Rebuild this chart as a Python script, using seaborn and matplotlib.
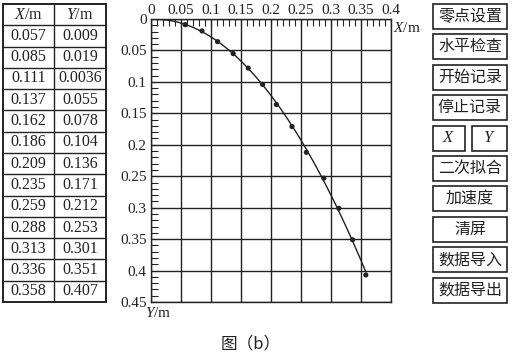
import numpy as np
import matplotlib
matplotlib.use("Agg")
import matplotlib.pyplot as plt
import seaborn as sns
from matplotlib.patches import Rectangle

# ---- data ----
x_vals = [0.057, 0.085, 0.111, 0.137, 0.162, 0.186, 0.209, 0.235, 0.259, 0.288, 0.313, 0.336, 0.358]
y_vals = [0.009, 0.019, 0.036, 0.055, 0.078, 0.104, 0.136, 0.171, 0.212, 0.253, 0.301, 0.351, 0.407]
x_table_text = ["0.057", "0.085", "0.111", "0.137", "0.162", "0.186", "0.209",
                "0.235", "0.259", "0.288", "0.313", "0.336", "0.358"]
y_table_text = ["0.009", "0.019", "0.0036", "0.055", "0.078", "0.104", "0.136",
                "0.171", "0.212", "0.253", "0.301", "0.351", "0.407"]
x_ticks = [0, 0.05, 0.1, 0.15, 0.2, 0.25, 0.3, 0.35, 0.4]
x_tick_labels = ["0", "0.05", "0.1", "0.15", "0.2", "0.25", "0.3", "0.35", "0.4"]
y_ticks = [0, 0.05, 0.1, 0.15, 0.2, 0.25, 0.3, 0.35, 0.4, 0.45]
y_tick_labels = ["0", "0.05", "0.1", "0.15", "0.2", "0.25", "0.3", "0.35", "0.4", "0.45"]
buttons = ["零点设置", "水平检查", "开始记录", "停止记录", None, "二次拟合", "加速度", "清屏", "数据导入", "数据导出"]

sns.set_theme(style="white")
plt.rcParams["font.family"] = ["Liberation Serif", "Noto Sans CJK SC"]
plt.rcParams["mathtext.fontset"] = "custom"
plt.rcParams["mathtext.rm"] = "Liberation Serif"
plt.rcParams["mathtext.it"] = "Liberation Serif:italic"

INK = "#222222"
W, H = 512, 358
fig = plt.figure(figsize=(W / 100, H / 100), dpi=100)
fig.patch.set_facecolor("white")

# ---- main chart ----
ax = fig.add_axes([151 / W, 1 - 302 / H, 240 / W, 283 / H])
coef = np.polyfit(x_vals, y_vals, 2)
fit_x = np.linspace(0, max(x_vals), 120)
fit_y = np.polyval(coef, fit_x)
sns.lineplot(x=fit_x, y=fit_y, ax=ax, color=INK, lw=1.0, zorder=4)
sns.scatterplot(x=x_vals, y=y_vals, ax=ax, color=INK, s=14, marker="o",
                edgecolor="none", zorder=5)
ax.set_xlim(0, 0.4)
ax.set_ylim(0.45, 0)
ax.set_xticks(x_ticks)
ax.set_xticklabels(x_tick_labels)
ax.set_yticks(y_ticks)
ax.set_yticklabels(y_tick_labels)
ax.set_xticks(np.arange(0, 0.4001, 0.01), minor=True)
ax.set_yticks(np.arange(0, 0.4501, 0.01), minor=True)
ax.xaxis.tick_top()
ax.tick_params(which="both", direction="in", length=5, width=0.8, color=INK,
               top=True, bottom=False, left=True, right=False,
               labeltop=True, labelbottom=False, labelsize=11, labelcolor=INK)
ax.tick_params(axis="x", which="major", pad=1.5)
ax.tick_params(axis="y", which="major", pad=3)
ax.grid(True, which="major", color=INK, lw=1.0)
ax.set_xlabel("")
ax.set_ylabel("")
for s in ax.spines.values():
    s.set_visible(True)
    s.set_color(INK)
    s.set_linewidth(1.0)
ax.set_facecolor("white")

# ---- overlay in pixel coordinates ----
ov = fig.add_axes([0, 0, 1, 1], zorder=-1)
ov.set_xlim(0, W)
ov.set_ylim(H, 0)
ov.axis("off")

ov.text(393, 28, "$X$/m", ha="left", va="center", fontsize=11, color=INK)
ov.text(145, 313, "$Y$/m", ha="left", va="center", fontsize=11, color=INK)

# table
tx0, tx1, txm = 3, 106, 54
ty0, ty1 = 4, 302
nrows = len(x_table_text) + 1
rh = (ty1 - ty0) / nrows
ov.add_patch(Rectangle((tx0, ty0), tx1 - tx0, ty1 - ty0, fill=False, ec=INK, lw=1.4))
ov.plot([txm, txm], [ty0, ty1], color=INK, lw=1.0)
for i in range(1, nrows):
    ov.plot([tx0, tx1], [ty0 + i * rh, ty0 + i * rh], color=INK, lw=1.0)
ov.text((tx0 + txm) / 2, ty0 + rh / 2, "$X$/m", ha="center", va="center", fontsize=11.5, color=INK)
ov.text((txm + tx1) / 2, ty0 + rh / 2, "$Y$/m", ha="center", va="center", fontsize=11.5, color=INK)
for i, (a, b) in enumerate(zip(x_table_text, y_table_text)):
    yc = ty0 + (i + 1.5) * rh
    ov.text((tx0 + txm) / 2, yc, a, ha="center", va="center", fontsize=11.5, color=INK)
    ov.text((txm + tx1) / 2, yc, b, ha="center", va="center", fontsize=11.5, color=INK)

# buttons
bx0, bx1 = 433, 507
bh = 25
for i, label in enumerate(buttons):
    top = 4 + i * 30.4
    if label is None:
        ov.add_patch(Rectangle((433, top), 32, bh, fill=False, ec=INK, lw=1.2))
        ov.add_patch(Rectangle((472, top), 35, bh, fill=False, ec=INK, lw=1.2))
        ov.text(449, top + bh / 2, "$X$", ha="center", va="center", fontsize=12, color=INK)
        ov.text(489.5, top + bh / 2, "$Y$", ha="center", va="center", fontsize=12, color=INK)
    else:
        ov.add_patch(Rectangle((bx0, top), bx1 - bx0, bh, fill=False, ec=INK, lw=1.2))
        ov.text((bx0 + bx1) / 2, top + bh / 2, label, ha="center", va="center",
                fontsize=11.5, color=INK, family=["Noto Sans CJK SC"])

ov.text(251, 344, "图（b）", ha="center", va="center", fontsize=12, color=INK,
        family=["Noto Sans CJK SC"])

fig.savefig("out.png", dpi=100, facecolor="white")
